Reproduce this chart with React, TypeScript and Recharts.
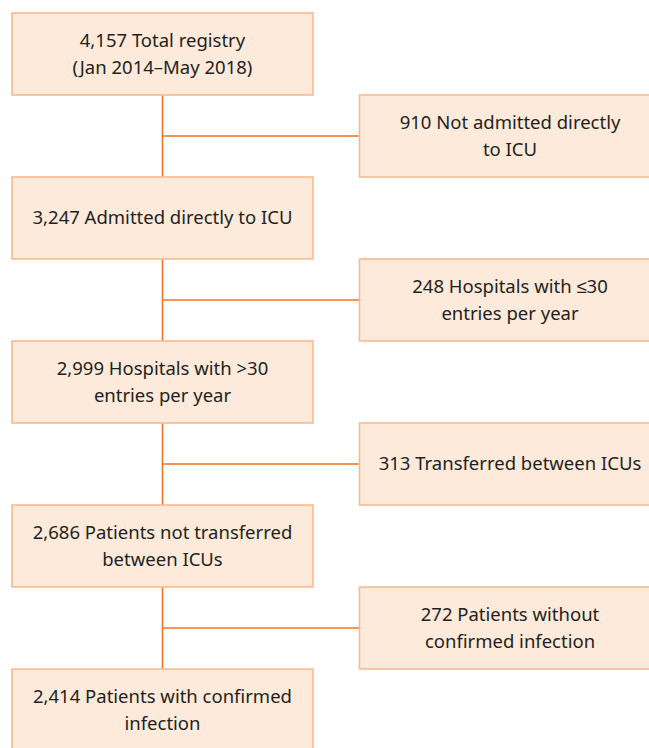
import React from "react";
import { ScatterChart, Scatter, XAxis, YAxis, ReferenceLine } from "recharts";

// Flowchart content (each box: text lines), its column (0 = main flow, 1 = excluded) and row order
const boxLabels: string[][] = [
  ["4,157 Total registry", "(Jan 2014\u2013May 2018)"],
  ["910 Not admitted directly", "to ICU"],
  ["3,247 Admitted directly to ICU"],
  ["248 Hospitals with \u226430", "entries per year"],
  ["2,999 Hospitals with >30", "entries per year"],
  ["313 Transferred between ICUs"],
  ["2,686 Patients not transferred", "between ICUs"],
  ["272 Patients without", "confirmed infection"],
  ["2,414 Patients with confirmed", "infection"],
];
const boxColumns: number[] = [0, 1, 0, 1, 0, 1, 0, 1, 0];
const boxRows: number[] = [0, 1, 2, 3, 4, 5, 6, 7, 8];

const W = 649;
const H = 748;
const X_DOMAIN: [number, number] = [-0.4676, 1.4];
const Y_DOMAIN: [number, number] = [-0.6585, 8.4634];
const UNIT_X = W / (X_DOMAIN[1] - X_DOMAIN[0]);
const BOX_W = 301;
const BOX_H = 82;
const LINE_H = 27;

const FILL = "#fdeadb";
const BORDER = "#f8b68b";
const CONNECTOR = "#f37021";
const TEXT = "#231f20";
const FONT = "'Noto Sans', sans-serif";

const data = boxLabels.map((lines, i) => ({ col: boxColumns[i], row: boxRows[i], lines }));

const BoxShape = (props: any) => {
  const { cx, cy, payload } = props;
  const lines: string[] = payload.lines;
  const n = lines.length;
  return (
    <g>
      <rect
        x={cx - BOX_W / 2}
        y={cy - BOX_H / 2}
        width={BOX_W}
        height={BOX_H}
        fill={FILL}
        stroke={BORDER}
        strokeWidth={1.5}
      />
      {lines.map((t, k) => (
        <text
          key={k}
          x={cx}
          y={cy + (k - (n - 1) / 2) * LINE_H - 1}
          textAnchor="middle"
          dominantBaseline="central"
          fontFamily={FONT}
          fontSize={18.5}
          fill={TEXT}
        >
          {t}
        </text>
      ))}
    </g>
  );
};

const excluded = data.filter((d) => d.col === 1);
const rightEdgeStart = 1 - BOX_W / 2 / UNIT_X;

export default function App() {
  return (
    <div style={{ position: "absolute", left: 0, top: 0, width: W, height: H, background: "#fff" }}>
      <ScatterChart width={W} height={H} margin={{ top: 0, right: 0, bottom: 0, left: 0 }}>
        <XAxis type="number" dataKey="col" domain={X_DOMAIN} hide allowDataOverflow />
        <YAxis type="number" dataKey="row" domain={Y_DOMAIN} reversed hide allowDataOverflow />
        {excluded.map((d) => (
          <ReferenceLine
            key={"v" + d.row}
            segment={[
              { x: 0, y: d.row - 0.5 },
              { x: 0, y: d.row + 0.5 },
            ]}
            stroke={CONNECTOR}
            strokeWidth={1.5}
            ifOverflow="visible"
          />
        ))}
        {excluded.map((d) => (
          <ReferenceLine
            key={"h" + d.row}
            segment={[
              { x: 0, y: d.row },
              { x: rightEdgeStart, y: d.row },
            ]}
            stroke={CONNECTOR}
            strokeWidth={1.5}
            ifOverflow="visible"
          />
        ))}
        <Scatter data={data} shape={BoxShape} isAnimationActive={false} />
      </ScatterChart>
    </div>
  );
}
